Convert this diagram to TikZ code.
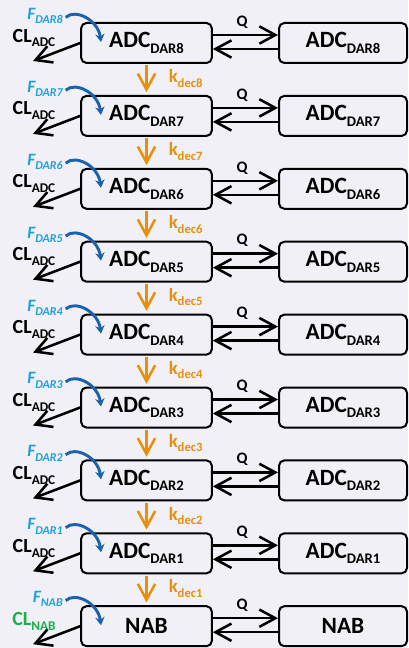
\documentclass[tikz,border=0pt]{standalone}
\usepackage{fontspec}
\setmainfont{Carlito}
\usetikzlibrary{calc,arrows.meta}
\definecolor{bgcol}{HTML}{F1F0F6}
\definecolor{flabcol}{HTML}{1FA0DD}
\definecolor{fcurvcol}{HTML}{1B62AC}
\definecolor{kdeccol}{HTML}{E8900E}
\definecolor{clnabcol}{HTML}{1DAF4E}
\newcommand{\lowsub}[2][10]{\raisebox{-0.5ex}{\fontsize{#1}{#1}\selectfont #2}}
\tikzset{
  cmpt/.style={draw, line width=1.5pt, rounded corners=4pt, minimum height=30pt,
    inner sep=0pt, font=\fontsize{17.5}{19}\selectfont\bfseries},
  flow/.style={line width=1.9pt, -{Straight Barb[length=12pt,width=13pt,line width=1.9pt]}},
  decay/.style={flow, kdeccol, line width=1.6pt, shorten >=2pt, shorten <=1pt},
  fcurv/.style={fcurvcol, line width=2.2pt, -{Stealth[length=6pt,width=7pt]}},
  flab/.style={flabcol, inner sep=0pt, font=\fontsize{13}{15}\selectfont\bfseries\itshape},
  cllab/.style={inner sep=0pt, font=\fontsize{15}{17}\selectfont\bfseries},
  klab/.style={kdeccol, inner sep=0pt, anchor=west, font=\fontsize{14}{16}\selectfont\bfseries},
  qlab/.style={inner sep=0pt, font=\fontsize{12}{14}\selectfont\bfseries}
}
\begin{document}
\begin{tikzpicture}[x=0.75pt, y=-0.75pt]
\fill[bgcol] (0,0) rectangle (408,648);
\useasboundingbox (0,0) rectangle (408,648);
% ADC rows
\foreach \k/\d in {0/8,1/7,2/6,3/5,4/4,5/3,6/2,7/1}{
  \pgfmathsetmacro\cy{43+72.9*\k}
  \node[cmpt, minimum width=98pt] (L\k) at (146.5,\cy) {ADC\lowsub[11]{DAR\d}};
  \node[cmpt, minimum width=96pt] (R\k) at (343,\cy) {ADC\lowsub[11]{DAR\d}};
  \node[flab, anchor=east] (F\k) at (63,\cy-27) {F\lowsub[9]{DAR\d}};
  \node[cllab] (CL\k) at (34,\cy-5) {CL\lowsub{ADC}};
}
% NAB row
\node[cmpt, minimum width=98pt] (L8) at (146.5,626.2) {NAB};
\node[cmpt, minimum width=96pt] (R8) at (343,626.2) {NAB};
\node[flab, anchor=east] (F8) at (63,599.2) {F\lowsub[9]{NAB}};
\node[cllab, clnabcol] (CL8) at (34,621.2) {CL\lowsub{NAB}};
% exchange, dosing and clearance
\foreach \k in {0,...,8}{
  \pgfmathsetmacro\cy{43+72.9*\k}
  \draw[flow] ([yshift=6pt]L\k.east) -- ([yshift=6pt]R\k.west);
  \draw[flow] ([yshift=-4.5pt]R\k.west) -- ([yshift=-4.5pt]L\k.east);
  \node[qlab] (Q\k) at (242,\cy-21) {Q};
  \coordinate (Fin\k) at (101,\cy-1);
  \draw[fcurv] ([xshift=2pt,yshift=-1pt]F\k.east) .. controls +(10,-9) and +(-3,-22) .. (Fin\k);
  \coordinate (CLo\k) at (33,\cy+18);
  \draw[flow] (L\k.west) -- (CLo\k);
}
% deconjugation
\foreach \k/\d in {0/8,1/7,2/6,3/5,4/4,5/3,6/2,7/1}{
  \pgfmathtruncatemacro\n{\k+1}
  \draw[decay] (L\k.south) -- (L\n.north);
  \node[klab] (K\k) at ($(L\k.south)!0.5!(L\n.north)+(22,-1)$) {k\lowsub[9.5]{dec\d}};
}
\end{tikzpicture}
\end{document}
